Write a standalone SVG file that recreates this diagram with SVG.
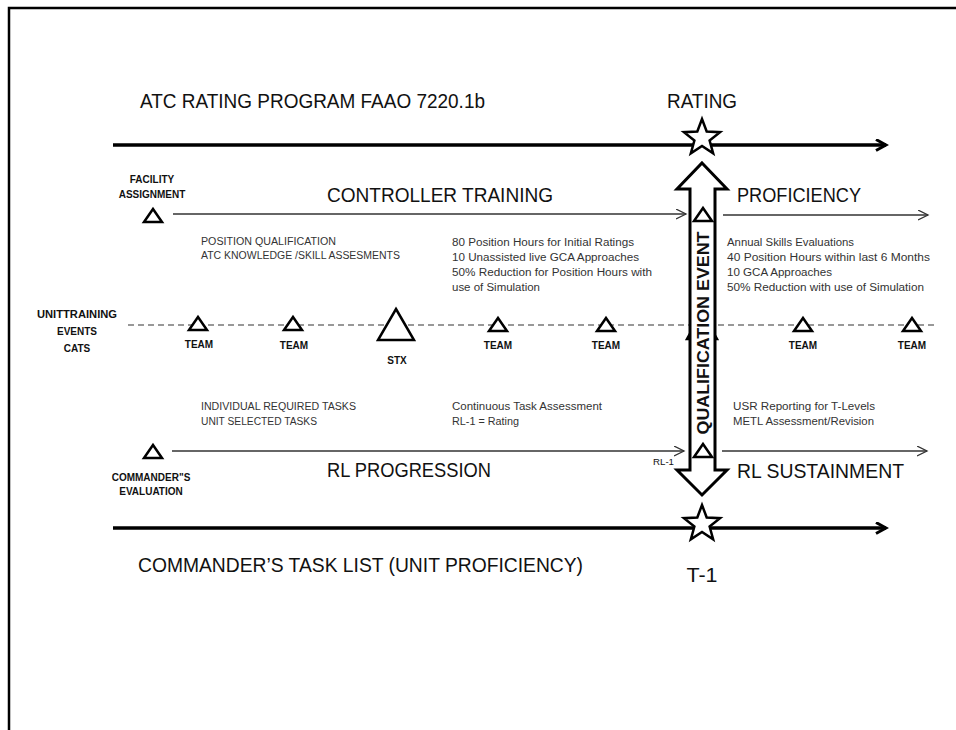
<svg xmlns="http://www.w3.org/2000/svg" width="956" height="730" viewBox="0 0 956 730">
<style>
text{font-family:"Liberation Sans",Arial,sans-serif;fill:#111}
.big{font-size:20px}
.sm{font-size:10px;fill:#333}
.lb{font-size:10px;font-weight:bold}
.thin{stroke:#333;stroke-width:1.3;fill:none}
.thick{stroke:#000;stroke-width:3.5;fill:none}
.tri{stroke:#000;stroke-width:2.5;fill:#fff;stroke-linejoin:miter}
.star{stroke:#000;stroke-width:2.5;fill:#fff}
</style>
<defs>
<marker id="open" markerWidth="12" markerHeight="12" refX="10" refY="5" orient="auto" markerUnits="userSpaceOnUse"><path d="M0,0 L10,5 L0,10" fill="none" stroke="#333" stroke-width="1.3"/></marker>
<marker id="bigopen" markerWidth="14" markerHeight="14" refX="11" refY="6" orient="auto" markerUnits="userSpaceOnUse"><path d="M1,0.5 L11,6 L1,11.5" fill="none" stroke="#000" stroke-width="3"/></marker>
<path id="starp" d="M0,-19 L4.7,-6.47 L18.07,-5.87 L7.61,2.47 L11.17,15.37 L0,8 L-11.17,15.37 L-7.61,2.47 L-18.07,-5.87 L-4.7,-6.47 Z"/>
<path id="tris" d="M0,-7 L9,6 L-9,6 Z"/>
</defs>
<rect width="956" height="730" fill="#fff"/>
<g id="frame"><path d="M9,730 L9,8 L956,8" fill="none" stroke="#000" stroke-width="2.5"/></g>

<g id="connectors">
<line class="thick" x1="113" y1="145" x2="886" y2="145" marker-end="url(#bigopen)"/>
<line class="thick" x1="113" y1="528" x2="886" y2="528" marker-end="url(#bigopen)"/>
<line class="thin" x1="173" y1="214" x2="686" y2="214" marker-end="url(#open)"/>
<line class="thin" x1="723" y1="215" x2="928" y2="215" marker-end="url(#open)"/>
<line class="thin" x1="172" y1="451" x2="684" y2="451" marker-end="url(#open)"/>
<line class="thin" x1="722" y1="451" x2="927" y2="451" marker-end="url(#open)"/>
<line x1="128" y1="325" x2="936" y2="325" stroke="#333" stroke-width="1.2" stroke-dasharray="6,4"/>
</g>

<g id="title"><text class="big" x="140" y="108" textLength="345" lengthAdjust="spacingAndGlyphs">ATC RATING PROGRAM FAAO 7220.1b</text></g>
<g id="rating"><text class="big" x="702" y="108" text-anchor="middle" textLength="70" lengthAdjust="spacingAndGlyphs">RATING</text>
<use href="#starp" class="star" transform="translate(702,138)"/></g>

<g id="hidden-event"><path d="M702,312 L717,339 L687,339 Z" class="tri"/></g>

<g id="qualification-event">
<path d="M702,163 L727,189 L715,189 L715,470 L727,470 L702,495 L677,470 L690,470 L690,189 L677,189 Z" fill="#fff" stroke="#000" stroke-width="3" stroke-linejoin="miter"/>
<text transform="translate(709,333) rotate(-90)" text-anchor="middle" font-size="17" font-weight="bold" textLength="203" lengthAdjust="spacingAndGlyphs">QUALIFICATION EVENT</text>
<use href="#tris" class="tri" transform="translate(703,215)"/>
<use href="#tris" class="tri" transform="translate(703,451)"/>
</g>

<g id="facility-assignment">
<text class="lb" x="152" y="183" text-anchor="middle">FACILITY</text>
<text class="lb" x="152" y="198" text-anchor="middle">ASSIGNMENT</text>
<use href="#tris" class="tri" transform="translate(153,216)"/>
</g>
<g id="controller-training"><text class="big" x="327" y="202" textLength="226" lengthAdjust="spacingAndGlyphs">CONTROLLER TRAINING</text></g>
<g id="proficiency"><text class="big" x="737" y="202" textLength="124" lengthAdjust="spacingAndGlyphs">PROFICIENCY</text></g>

<g id="position-qualification">
<text class="sm" x="201" y="245" textLength="135" lengthAdjust="spacingAndGlyphs">POSITION QUALIFICATION</text>
<text class="sm" x="201" y="259" textLength="199" lengthAdjust="spacingAndGlyphs">ATC KNOWLEDGE /SKILL ASSESMENTS</text>
</g>
<g id="initial-ratings">
<text class="sm" x="452" y="246" textLength="182" lengthAdjust="spacingAndGlyphs">80 Position Hours for Initial Ratings</text>
<text class="sm" x="452" y="261" textLength="187" lengthAdjust="spacingAndGlyphs">10 Unassisted live GCA Approaches</text>
<text class="sm" x="452" y="276" textLength="200" lengthAdjust="spacingAndGlyphs">50% Reduction for Position Hours with</text>
<text class="sm" x="452" y="291" textLength="88" lengthAdjust="spacingAndGlyphs">use of Simulation</text>
</g>
<g id="annual-skills">
<text class="sm" x="727" y="246" textLength="127" lengthAdjust="spacingAndGlyphs">Annual Skills Evaluations</text>
<text class="sm" x="727" y="261" textLength="203" lengthAdjust="spacingAndGlyphs">40 Position Hours within last 6 Months</text>
<text class="sm" x="727" y="276" textLength="105" lengthAdjust="spacingAndGlyphs">10 GCA Approaches</text>
<text class="sm" x="727" y="291" textLength="197" lengthAdjust="spacingAndGlyphs">50% Reduction with use of Simulation</text>
</g>

<g id="unit-training-events">
<text class="lb" x="77" y="318" text-anchor="middle" textLength="80" lengthAdjust="spacingAndGlyphs">UNITTRAINING</text>
<text class="lb" x="77" y="335" text-anchor="middle">EVENTS</text>
<text class="lb" x="77" y="352" text-anchor="middle">CATS</text>
</g>
<g id="team1"><use href="#tris" class="tri" transform="translate(198,324)"/><text class="lb" x="199" y="348" text-anchor="middle">TEAM</text></g>
<g id="team2"><use href="#tris" class="tri" transform="translate(293,324)"/><text class="lb" x="294" y="349" text-anchor="middle">TEAM</text></g>
<g id="stx"><path d="M396,309 L414,340 L378,340 Z" class="tri"/><text class="lb" x="397" y="364" text-anchor="middle">STX</text></g>
<g id="team3"><use href="#tris" class="tri" transform="translate(498,325)"/><text class="lb" x="498" y="349" text-anchor="middle">TEAM</text></g>
<g id="team4"><use href="#tris" class="tri" transform="translate(606,325)"/><text class="lb" x="606" y="349" text-anchor="middle">TEAM</text></g>
<g id="team5"><use href="#tris" class="tri" transform="translate(803,325)"/><text class="lb" x="803" y="349" text-anchor="middle">TEAM</text></g>
<g id="team6"><use href="#tris" class="tri" transform="translate(912,325)"/><text class="lb" x="912" y="349" text-anchor="middle">TEAM</text></g>

<g id="individual-tasks">
<text class="sm" x="201" y="410" textLength="155" lengthAdjust="spacingAndGlyphs">INDIVIDUAL REQUIRED TASKS</text>
<text class="sm" x="201" y="425" textLength="116" lengthAdjust="spacingAndGlyphs">UNIT SELECTED TASKS</text>
</g>
<g id="continuous-assessment">
<text class="sm" x="452" y="410" textLength="150" lengthAdjust="spacingAndGlyphs">Continuous Task Assessment</text>
<text class="sm" x="452" y="425" textLength="67" lengthAdjust="spacingAndGlyphs">RL-1 = Rating</text>
</g>
<g id="usr-reporting">
<text class="sm" x="733" y="410" textLength="142" lengthAdjust="spacingAndGlyphs">USR Reporting for T-Levels</text>
<text class="sm" x="733" y="425" textLength="141" lengthAdjust="spacingAndGlyphs">METL Assessment/Revision</text>
</g>

<g id="commanders-evaluation">
<use href="#tris" class="tri" transform="translate(153,452)"/>
<text class="lb" x="151" y="481" text-anchor="middle">COMMANDER"S</text>
<text class="lb" x="151" y="495" text-anchor="middle">EVALUATION</text>
</g>
<g id="rl-progression"><text class="big" x="327" y="477" textLength="164" lengthAdjust="spacingAndGlyphs">RL PROGRESSION</text>
<text x="653" y="465" font-size="9" textLength="21" lengthAdjust="spacingAndGlyphs">RL-1</text></g>
<g id="rl-sustainment"><text class="big" x="737" y="478" textLength="167" lengthAdjust="spacingAndGlyphs">RL SUSTAINMENT</text></g>

<g id="t1"><use href="#starp" class="star" transform="translate(702,524)"/>
<text class="big" x="702" y="582" text-anchor="middle" textLength="31" lengthAdjust="spacingAndGlyphs">T-1</text></g>
<g id="task-list"><text class="big" x="138" y="572" textLength="445" lengthAdjust="spacingAndGlyphs">COMMANDER’S TASK LIST (UNIT PROFICIENCY)</text></g>
</svg>
